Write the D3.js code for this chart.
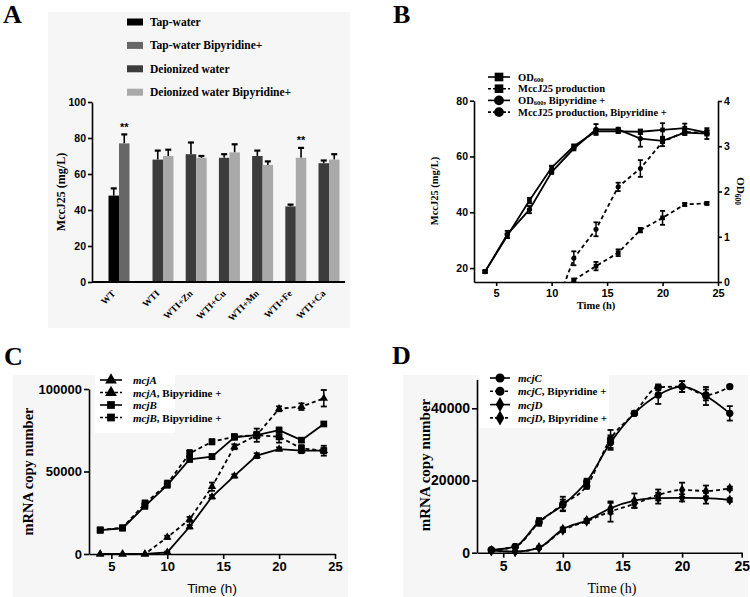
<!DOCTYPE html>
<html><head><meta charset="utf-8">
<script src="https://cdn.jsdelivr.net/npm/d3@7"></script>
<style>body{margin:0;background:#fff}</style>
</head><body><svg id="c" width="750" height="597"></svg>
<script>
// ================= DATA =================
// Panel A
const catA = ["WT","WTI","WTI+Zn","WTI+Cu","WTI+Mn","WTI+Fe","WTI+Ca"];
const seriesA = ["Tap-water","Tap-water Bipyridine+","Deionized water","Deionized water Bipyridine+"];
const tapWater        = [48, null, null, null, null, null, null];
const tapWaterErr     = [4, null, null, null, null, null, null];
const tapWaterBipy    = [77, null, null, null, null, null, null];
const tapWaterBipyErr = [5, null, null, null, null, null, null];
const diWater         = [null, 68, 71, 69, 70, 42, 66];
const diWaterErr      = [null, 5, 6.5, 2, 3, 1, 1.5];
const diWaterBipy     = [null, 70, 69, 72, 65, 69, 68];
const diWaterBipyErr  = [null, 3.5, 1, 4.5, 2, 5.5, 3];
const sigA            = ["**", "", "", "", "", "**", ""];
const ticksAy = [0, 20, 40, 60, 80, 100];

// Panel B
const timeB = [4, 6, 8, 10, 12, 14, 16, 18, 20, 22, 24];
const od600          = [0.23, 1.02, 1.80, 2.53, 3.00, 3.33, 3.33, 3.32, 3.36, 3.40, 3.30];
const od600Err       = [0.03, 0.05, 0.06, 0.04, 0.04, 0.05, 0.04, 0.05, 0.15, 0.10, 0.04];
const od600Bipy      = [0.23, 1.05, 1.60, 2.43, 2.95, 3.37, 3.37, 3.17, 3.12, 3.30, 3.28];
const od600BipyErr   = [0.03, 0.08, 0.08, 0.04, 0.04, 0.12, 0.04, 0.18, 0.05, 0.05, 0.12];
const mccProd        = [null, null, null, null, 15.7, 20.7, 25.5, 33.6, 38.0, 42.8, 43.2];
const mccProdErr     = [null, null, null, null, 0.5, 1.5, 1.2, 0.8, 2.5, 0.5, 0.5];
const mccProdBipy    = [null, null, null, 2, 23.5, 33.9, 49.1, 55.7, 65.2, 68.8, 68.5];
const mccProdBipyErr = [null, null, null, 0, 2.5, 2.5, 1.5, 3, 1.5, 1, 1];
const legendB = ["OD600", "MccJ25 production", "OD600, Bipyridine +", "MccJ25 production, Bipyridine +"];
const ticksBx = [5, 10, 15, 20, 25];
const ticksBLeft = [20, 40, 60, 80];
const ticksBRight = [0, 1, 2, 3, 4];

// Panel C
const timeC = [4, 6, 8, 10, 12, 14, 16, 18, 20, 22, 24];
const mcjA        = [0, 0, 0, 1000, 16500, 34700, 47300, 59600, 63600, 62600, 62600];
const mcjAErr     = [0, 0, 0, 500, 1000, 1000, 1000, 1500, 1000, 1500, 1500];
const mcjABipy    = [0, 0, 0, 10100, 21000, 40800, 65000, 72000, 88000, 89300, 94400];
const mcjABipyErr = [0, 0, 0, 1000, 1500, 2500, 1500, 4000, 1500, 2000, 5000];
const mcjB        = [14500, 15600, 29000, 41800, 57400, 59000, 70700, 72100, 75100, 69000, 78800];
const mcjBErr     = [1500, 1000, 1500, 1500, 1500, 1500, 1000, 1500, 1500, 1000, 1000];
const mcjBBipy    = [14500, 16000, 30500, 42500, 61000, 68000, 71100, 72100, 71000, 64000, 62600];
const mcjBBipyErr = [1000, 1000, 2000, 2000, 2000, 1500, 1500, 2000, 3500, 2000, 3000];
const legendC = ["mcjA", "mcjA, Bipyridine +", "mcjB", "mcjB, Bipyridine +"];
const ticksCx = [5, 10, 15, 20, 25];
const ticksCy = [0, 50000, 100000];

// Panel D
const timeD = [4, 6, 8, 10, 12, 14, 16, 18, 20, 22, 24];
const mcjC        = [750, 1700, 8600, 13200, 19700, 30500, 38600, 43700, 46000, 43400, 38600];
const mcjCErr     = [300, 500, 1000, 1500, 800, 2000, 500, 2500, 1500, 2500, 2000];
const mcjCBipy    = [750, 1700, 8300, 13500, 18500, 31500, 38600, 45800, 46000, 43700, 46000];
const mcjCBipyErr = [300, 500, 800, 2000, 800, 2500, 500, 800, 1500, 1500, 500];
const mcjD        = [550, 300, 1400, 6500, 8900, 12300, 14400, 15100, 15200, 15100, 14600];
const mcjDErr     = [200, 200, 300, 500, 500, 1500, 2000, 1500, 1000, 1500, 500];
const mcjDBipy    = [550, 300, 1400, 6200, 8700, 11400, 13500, 16000, 17400, 17100, 17800];
const mcjDBipyErr = [200, 200, 300, 500, 500, 2800, 1000, 1500, 2000, 1500, 500];
const legendD = ["mcjC", "mcjC, Bipyridine +", "mcjD", "mcjD, Bipyridine +"];
const ticksDx = [5, 10, 15, 20, 25];
const ticksDy = [0, 20000, 40000];

// ================= DRAWING =================
const SERIF = "'Liberation Serif','Times New Roman',serif";
const SANS = "'Liberation Sans',Arial,sans-serif";
const svg = d3.select("#c");
svg.append("rect").attr("width", 750).attr("height", 597).attr("fill", "#fff");

function styleAxis(g, fs) {
  g.selectAll("path.domain").attr("stroke", "#000").attr("stroke-width", 1.6);
  g.selectAll(".tick line").attr("stroke", "#000").attr("stroke-width", 1.6);
  g.selectAll(".tick text").attr("font-family", SANS).attr("font-weight", "bold")
    .attr("font-size", fs).attr("fill", "#000");
}
function panelLetter(t, x, y) {
  svg.append("text").attr("x", x).attr("y", y).text(t)
    .attr("font-family", SERIF).attr("font-weight", "bold").attr("font-size", 26);
}
function errBars(g, xs, ys, times, vals, errs, cap, both) {
  times.forEach((t, i) => {
    const v = vals[i], e = errs[i];
    if (v == null || !e) return;
    const x = xs(t);
    const y1 = ys(v + e), y0 = both ? ys(v - e) : ys(v);
    g.append("line").attr("x1", x).attr("x2", x).attr("y1", y0).attr("y2", y1)
      .attr("stroke", "#000").attr("stroke-width", 1.5);
    g.append("line").attr("x1", x - cap / 2).attr("x2", x + cap / 2).attr("y1", y1).attr("y2", y1)
      .attr("stroke", "#000").attr("stroke-width", 1.8);
    if (both) g.append("line").attr("x1", x - cap / 2).attr("x2", x + cap / 2).attr("y1", y0).attr("y2", y0)
      .attr("stroke", "#000").attr("stroke-width", 1.8);
  });
}
function series(g, xs, ys, times, vals, errs, opt) {
  const pts = times.map((t, i) => ({ t, v: vals[i] })).filter(d => d.v != null);
  const line = d3.line().x(d => xs(d.t)).y(d => ys(d.v)).curve(opt.curve || d3.curveLinear);
  g.append("path").datum(pts).attr("d", line).attr("fill", "none").attr("stroke", "#000")
    .attr("stroke-width", 1.8).attr("stroke-dasharray", opt.dash ? "4,3" : null);
  errBars(g, xs, ys, times, vals, errs, opt.cap || 5, true);
  g.selectAll(null).data(pts).enter().append("path")
    .attr("d", d3.symbol().type(opt.sym).size(opt.size))
    .attr("transform", d => `translate(${xs(d.t)},${ys(d.v)})`).attr("fill", "#000");
}
function legendRow(g, x, y, sym, size, dash, w) {
  g.append("line").attr("x1", x - w).attr("x2", x + w).attr("y1", y).attr("y2", y)
    .attr("stroke", "#000").attr("stroke-width", 1.6).attr("stroke-dasharray", dash ? "3,2" : null);
  g.append("path").attr("d", d3.symbol().type(sym).size(size))
    .attr("transform", `translate(${x},${y})`).attr("fill", "#000");
}

// ---------- Panel A ----------
{
  const L = 92, R = 345, T = 102, B = 282;
  svg.append("rect").attr("x", 48).attr("y", 12).attr("width", 302).attr("height", 316).attr("fill", "#f6f6f6");
  panelLetter("A", 3, 23);
  const g = svg.append("g");
  const y = d3.scaleLinear().domain([0, 100]).range([B, T]);
  const x = d3.scaleLinear().domain([0, 1, catA.length - 1]).range([L + 27, L + 71, L + 237]);
  const colors = ["#000000", "#676767", "#3c3c3c", "#a9a9a9"];
  const bw = 10.5;
  const sets = [[tapWater, tapWaterErr, 0, 0], [tapWaterBipy, tapWaterBipyErr, 1, 1],
                [diWater, diWaterErr, 2, 0], [diWaterBipy, diWaterBipyErr, 3, 1]];
  sets.forEach(([vals, errs, si, slot]) => {
    catA.forEach((c, i) => {
      const v = vals[i]; if (v == null) return;
      const x0 = x(i) + (slot - 1) * bw;
      const cx = x0 + bw / 2;
      const e = errs[i];
      g.append("line").attr("x1", cx).attr("x2", cx).attr("y1", y(v)).attr("y2", y(v + e))
        .attr("stroke", "#000").attr("stroke-width", 1.6);
      g.append("line").attr("x1", cx - 3).attr("x2", cx + 3).attr("y1", y(v + e)).attr("y2", y(v + e))
        .attr("stroke", "#000").attr("stroke-width", 2.2);
      g.append("rect").attr("x", x0).attr("y", y(v)).attr("width", bw).attr("height", y(0) - y(v))
        .attr("fill", colors[si]);
      if (slot === 1 && sigA[i]) {
        g.append("text").attr("x", cx).attr("y", y(v + e) - 3.5).attr("text-anchor", "middle")
          .attr("font-family", SANS).attr("font-weight", "bold").attr("font-size", 11).text(sigA[i]);
      }
    });
  });
  const ay = g.append("g").attr("transform", `translate(${L},0)`)
    .call(d3.axisLeft(y).tickValues(ticksAy).tickSize(4).tickSizeOuter(0).tickPadding(2));
  styleAxis(ay, 10.5);
  g.append("line").attr("x1", L).attr("x2", R).attr("y1", B).attr("y2", B).attr("stroke", "#000").attr("stroke-width", 1.8);
  catA.forEach((c, i) => {
    g.append("text").attr("transform", `translate(${x(i) - 3},${B + 12}) rotate(-45)`)
      .attr("text-anchor", "end").attr("font-family", SERIF).attr("font-weight", "bold")
      .attr("font-size", 9.5).text(c);
  });
  g.append("text").attr("transform", `translate(65,${(T + B) / 2}) rotate(-90)`).attr("text-anchor", "middle")
    .attr("font-family", SERIF).attr("font-weight", "bold").attr("font-size", 12).text("MccJ25 (mg/L)");
  seriesA.forEach((s, i) => {
    const yy = 22 + i * 23.4;
    g.append("rect").attr("x", 127).attr("y", yy - 3.5).attr("width", 16).attr("height", 7).attr("fill", colors[i]);
    g.append("text").attr("x", 150).attr("y", yy + 4).attr("font-family", SERIF).attr("font-weight", "bold")
      .attr("font-size", 11.5).text(s);
  });
}

// ---------- Panel B ----------
{
  const L = 474, R = 718, B = 282;
  panelLetter("B", 393, 23);
  const g = svg.append("g");
  const x = d3.scaleLinear().domain([3, 25]).range([L, R]);
  const yl = d3.scaleLinear().domain([15, 80]).range([B, 100.7]);
  const yr = d3.scaleLinear().domain([0, 4]).range([B, 101]);
  svg.append("clipPath").attr("id", "clipB").append("rect").attr("x", L).attr("y", 80).attr("width", R - L + 10).attr("height", B - 80);
  const pg = g.append("g").attr("clip-path", "url(#clipB)");
  series(pg, x, yl, timeB, mccProd, mccProdErr, { sym: d3.symbolSquare, size: 22, dash: true, cap: 5 });
  series(pg, x, yl, timeB, mccProdBipy, mccProdBipyErr, { sym: d3.symbolCircle, size: 20, dash: true, cap: 5 });
  series(pg, x, yr, timeB, od600, od600Err, { sym: d3.symbolSquare, size: 22, cap: 5 });
  series(pg, x, yr, timeB, od600Bipy, od600BipyErr, { sym: d3.symbolCircle, size: 22, cap: 5 });
  const ax = g.append("g").attr("transform", `translate(0,${B})`)
    .call(d3.axisBottom(x).tickValues(ticksBx).tickSize(4).tickSizeOuter(0).tickPadding(3));
  styleAxis(ax, 11);
  const al = g.append("g").attr("transform", `translate(${L},0)`)
    .call(d3.axisLeft(yl).tickValues(ticksBLeft).tickSize(4).tickSizeOuter(0).tickPadding(2));
  styleAxis(al, 10.5);
  const ar = g.append("g").attr("transform", `translate(${R},0)`)
    .call(d3.axisRight(yr).tickValues(ticksBRight).tickSize(4).tickSizeOuter(0).tickPadding(2).tickFormat(d3.format("d")));
  styleAxis(ar, 10.5);
  g.append("text").attr("transform", `translate(438,191) rotate(-90)`).attr("text-anchor", "middle")
    .attr("font-family", SERIF).attr("font-weight", "bold").attr("font-size", 10.5).text("MccJ25 (mg/L)");
  const od = g.append("text").attr("transform", `translate(737,191) rotate(90)`).attr("text-anchor", "middle")
    .attr("font-family", SERIF).attr("font-weight", "bold").attr("font-size", 11);
  od.append("tspan").text("OD");
  od.append("tspan").attr("font-size", 7.5).attr("dy", 2.5).text("600");
  g.append("text").attr("x", (L + R) / 2).attr("y", 309).attr("text-anchor", "middle")
    .attr("font-family", SERIF).attr("font-weight", "bold").attr("font-size", 10.5).text("Time (h)");
  const syms = [d3.symbolSquare, d3.symbolSquare, d3.symbolCircle, d3.symbolCircle];
  legendB.forEach((s, i) => {
    const yy = 77 + i * 11.7;
    legendRow(g, 499, yy, syms[i], 75, i % 2 === 1, 11);
    const t = g.append("text").attr("x", 518).attr("y", yy + 3.5).attr("font-family", SERIF)
      .attr("font-weight", "bold").attr("font-size", 10.5);
    if (s.startsWith("OD600")) {
      t.append("tspan").text("OD");
      t.append("tspan").attr("font-size", 6.5).attr("dy", 1.5).text("600");
      t.append("tspan").attr("dy", -1.5).text(s.slice(5));
    } else t.text(s);
  });
}

// ---------- Panel C ----------
{
  const L = 89, R = 335, B = 554;
  svg.append("rect").attr("x", 13).attr("y", 375).attr("width", 335).attr("height", 222).attr("fill", "#f6f6f6");
  panelLetter("C", 4, 365);
  const g = svg.append("g");
  g.append("rect").attr("x", 95).attr("y", 371).attr("width", 80).attr("height", 62).attr("fill", "#fff");
  const x = d3.scaleLinear().domain([3, 25]).range([L, R]);
  const y = d3.scaleLinear().domain([0, 100000]).range([B, 389]);
  series(g, x, y, timeC, mcjA, mcjAErr, { sym: d3.symbolTriangle, size: 30, cap: 6 });
  series(g, x, y, timeC, mcjABipy, mcjABipyErr, { sym: d3.symbolTriangle, size: 30, dash: true, cap: 6 });
  series(g, x, y, timeC, mcjB, mcjBErr, { sym: d3.symbolSquare, size: 45, cap: 6 });
  series(g, x, y, timeC, mcjBBipy, mcjBBipyErr, { sym: d3.symbolSquare, size: 45, dash: true, cap: 6 });
  const ax = g.append("g").attr("transform", `translate(0,${B})`)
    .call(d3.axisBottom(x).tickValues(ticksCx).tickSize(5).tickSizeOuter(0).tickPadding(3));
  styleAxis(ax, 13);
  const ay = g.append("g").attr("transform", `translate(${L},0)`)
    .call(d3.axisLeft(y).tickValues(ticksCy).tickSize(5).tickSizeOuter(0).tickPadding(2).tickFormat(d3.format("d")));
  styleAxis(ay, 13);
  g.append("text").attr("transform", `translate(33,${(B + 389) / 2}) rotate(-90)`).attr("text-anchor", "middle")
    .attr("font-family", SERIF).attr("font-weight", "bold").attr("font-size", 14.5).text("mRNA copy number");
  g.append("text").attr("x", (L + R) / 2).attr("y", 593).attr("text-anchor", "middle")
    .attr("font-family", SANS).attr("font-size", 13.5).text("Time (h)");
  const syms = [d3.symbolTriangle, d3.symbolTriangle, d3.symbolSquare, d3.symbolSquare];
  legendC.forEach((s, i) => {
    const yy = 380 + i * 12.5;
    legendRow(g, 111, yy, syms[i], 60, i % 2 === 1, 11);
    const parts = s.split(", ");
    const t = g.append("text").attr("x", 133).attr("y", yy + 4).attr("font-family", SERIF)
      .attr("font-weight", "bold").attr("font-size", 11);
    t.append("tspan").attr("font-style", "italic").text(parts[0]);
    if (parts[1]) t.append("tspan").text(", " + parts[1]);
  });
}

// ---------- Panel D ----------
{
  const L = 477, R = 741.7, B = 552.7;
  svg.append("rect").attr("x", 403).attr("y", 375).attr("width", 345).attr("height", 222).attr("fill", "#f6f6f6");
  panelLetter("D", 392, 364);
  const g = svg.append("g");
  g.append("rect").attr("x", 479).attr("y", 370).attr("width", 130).attr("height", 58).attr("fill", "#fff");
  const x = d3.scaleLinear().domain([2.8, 25]).range([L, R]);
  const y = d3.scaleLinear().domain([0, 48000]).range([B, 379.4]);
  const cv = d3.curveMonotoneX;
  series(g, x, y, timeD, mcjD, mcjDErr, { sym: d3.symbolDiamond, size: 35, cap: 6, curve: cv });
  series(g, x, y, timeD, mcjDBipy, mcjDBipyErr, { sym: d3.symbolDiamond, size: 35, dash: true, cap: 6, curve: cv });
  series(g, x, y, timeD, mcjC, mcjCErr, { sym: d3.symbolCircle, size: 42, cap: 6, curve: cv });
  series(g, x, y, timeD, mcjCBipy, mcjCBipyErr, { sym: d3.symbolCircle, size: 42, dash: true, cap: 6, curve: cv });
  const ax = g.append("g").attr("transform", `translate(0,${B})`)
    .call(d3.axisBottom(x).tickValues(ticksDx).tickSize(5).tickSizeOuter(0).tickPadding(3));
  styleAxis(ax, 14);
  const ay = g.append("g").attr("transform", `translate(${L},0)`)
    .call(d3.axisLeft(y).tickValues(ticksDy).tickSize(5).tickSizeOuter(0).tickPadding(2).tickFormat(d3.format("d")));
  styleAxis(ay, 14);
  g.append("text").attr("transform", `translate(430,465) rotate(-90)`).attr("text-anchor", "middle")
    .attr("font-family", SERIF).attr("font-weight", "bold").attr("font-size", 15).text("mRNA copy number");
  g.append("text").attr("x", 612).attr("y", 593).attr("text-anchor", "middle")
    .attr("font-family", SERIF).attr("font-size", 14).text("Time (h)");
  const syms = [d3.symbolCircle, d3.symbolCircle, d3.symbolDiamond, d3.symbolDiamond];
  legendD.forEach((s, i) => {
    const yy = 378 + i * 13.3;
    legendRow(g, 500, yy, syms[i], 65, i % 2 === 1, 10);
    const parts = s.split(", ");
    const t = g.append("text").attr("x", 518).attr("y", yy + 4).attr("font-family", SERIF)
      .attr("font-weight", "bold").attr("font-size", 11);
    t.append("tspan").attr("font-style", "italic").text(parts[0]);
    if (parts[1]) t.append("tspan").text(", " + parts[1]);
  });
}
</script></body></html>
